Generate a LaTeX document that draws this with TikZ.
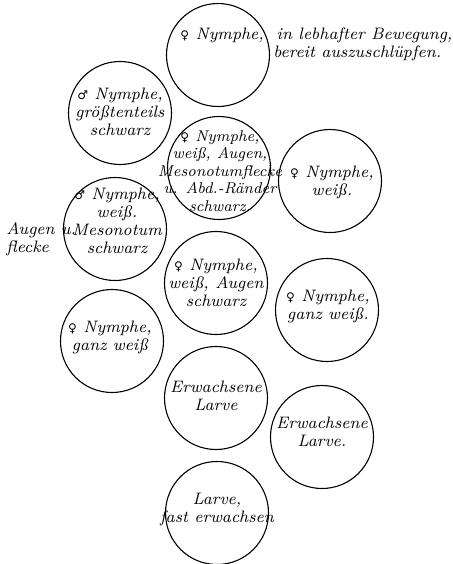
\documentclass[tikz,border=0pt]{standalone}
\usepackage{fontspec}
\newfontfamily\signfont{DejaVu Sans}
\newcommand{\fsym}{{\signfont\fontsize{6}{6}\selectfont ♀}}
\newcommand{\msym}{{\signfont\fontsize{6}{6}\selectfont ♂}}
\usepackage{tikz}

\begin{document}
\begin{tikzpicture}[
  x=0.5pt,y=-0.5pt,
  disc/.style={draw,circle,line width=0.55pt,minimum size=51.5pt,inner sep=0pt},
  note/.style={font=\fontsize{8.3}{9}\selectfont\itshape,align=center,inner sep=0pt}
]
  \useasboundingbox (0,0) rectangle (452,564);
  % the eleven discs
  \node[disc] (d1) at (218,55) {};
  \node[disc] (d2) at (120,113) {};
  \node[disc] (d3) at (219,168) {};
  \node[disc] (d4) at (330,181) {};
  \node[disc] (d5) at (115,229) {};
  \node[disc] (d6) at (216,283) {};
  \node[disc] (d7) at (327,310) {};
  \node[disc] (d8) at (112,341) {};
  \node[disc] (d9) at (216,398) {};
  \node[disc] (d10) at (322,437) {};
  \node[disc] (d11) at (217,513) {};
  % labels
  \node[note,align=left,anchor=west] (t1) at (180,44) {\fsym\ Nymphe,\ \ in lebhafter Bewegung,\\\hspace{46.5pt}bereit auszuschlüpfen.};
  \node[note] (t2) at (120,112) {\msym\ Nymphe,\\größtenteils\\schwarz};
  \node[note,font=\fontsize{7.8}{8.8}\selectfont\itshape] (t3) at (220,171) {\fsym\ Nymphe,\\weiß, Augen,\\Mesonotumflecke\\u. Abd.-Ränder\\schwarz.};
  \node[note] (t4) at (332,182) {\fsym\ Nymphe,\\weiß.};
  \node[note] (t5) at (117,221) {\msym\ Nymphe,\\weiß.\\Mesonotum\\schwarz};
  \node[note,align=left,anchor=west] (t5b) at (6,239) {Augen u.\\flecke};
  \node[note] (t6) at (216,283) {\fsym\ Nymphe,\\weiß, Augen\\schwarz};
  \node[note] (t7) at (328,306) {\fsym\ Nymphe,\\ganz weiß.};
  \node[note] (t8) at (110,337) {\fsym\ Nymphe,\\ganz weiß};
  \node[note] (t9) at (216,396) {Erwachsene\\Larve};
  \node[note] (t10) at (322,432) {Erwachsene\\Larve.};
  \node[note] (t11) at (217,510) {Larve,\\fast erwachsen};
\end{tikzpicture}
\end{document}
